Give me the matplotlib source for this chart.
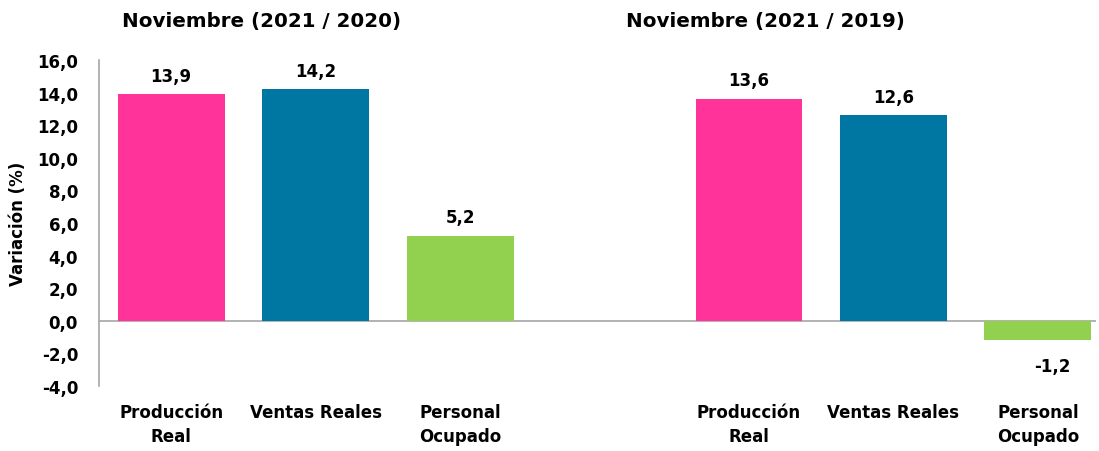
import matplotlib
matplotlib.use("Agg")
import matplotlib.pyplot as plt

categories = ["Producción\nReal", "Ventas Reales", "Personal\nOcupado"]
group_titles = ["Noviembre (2021 / 2020)", "Noviembre (2021 / 2019)"]
values_2020 = [13.9, 14.2, 5.2]
values_2019 = [13.6, 12.6, -1.2]
colors = ["#FF3399", "#0076A3", "#92D050"]
yticks = [-4, -2, 0, 2, 4, 6, 8, 10, 12, 14, 16]

plt.rcParams['font.family'] = ['DejaVu Sans']
plt.rcParams['font.weight'] = 'bold'

fig = plt.figure(figsize=(10.99, 4.52), dpi=100)
ax = fig.add_axes([0.09, 0.144, 0.907, 0.721])

pos1 = [0, 1, 2]
pos2 = [4, 5, 6]
w = 0.74
ax.bar(pos1, values_2020, width=w, color=colors, zorder=2)
ax.bar(pos2, values_2019, width=w, color=colors, zorder=2)

for p, v in zip(pos1 + pos2, values_2020 + values_2019):
    lab = f"{v:.1f}".replace(".", ",")
    if v >= 0:
        ax.annotate(lab, (p, v), xytext=(0, 7), textcoords="offset points",
                    ha="center", va="bottom", fontsize=12, fontweight="bold")
    else:
        ax.annotate(lab, (p + 0.1, v), xytext=(0, -12), textcoords="offset points",
                    ha="center", va="top", fontsize=12, fontweight="bold")

ax.set_ylim(-4, 16)
ax.set_xlim(-0.5, 6.4)
ax.set_yticks(yticks)
ax.set_yticklabels([f"{t:.1f}".replace(".", ",") for t in yticks], fontsize=12, fontweight="bold")
ax.tick_params(axis="y", length=0, pad=15)
ax.set_xticks(pos1 + pos2)
ax.set_xticklabels(categories + categories, fontsize=12, fontweight="bold", linespacing=1.45)
ax.tick_params(axis="x", length=0, pad=12)

for s in ["top", "right", "bottom"]:
    ax.spines[s].set_visible(False)
ax.spines["left"].set_color("#A6A6A6")
ax.spines["left"].set_linewidth(1.2)
ax.axhline(0, color="#A6A6A6", linewidth=1.2, zorder=1)

ax.set_ylabel("Variación (%)", fontsize=12, fontweight="bold")
ax.yaxis.set_label_coords(-0.072, 0.5)

fig.text(262 / 1099, 1 - 22 / 452, group_titles[0], ha="center", va="center", fontsize=14.3, fontweight="bold")
fig.text(765 / 1099, 1 - 22 / 452, group_titles[1], ha="center", va="center", fontsize=14.3, fontweight="bold")

fig.savefig("out.png", dpi=100)
